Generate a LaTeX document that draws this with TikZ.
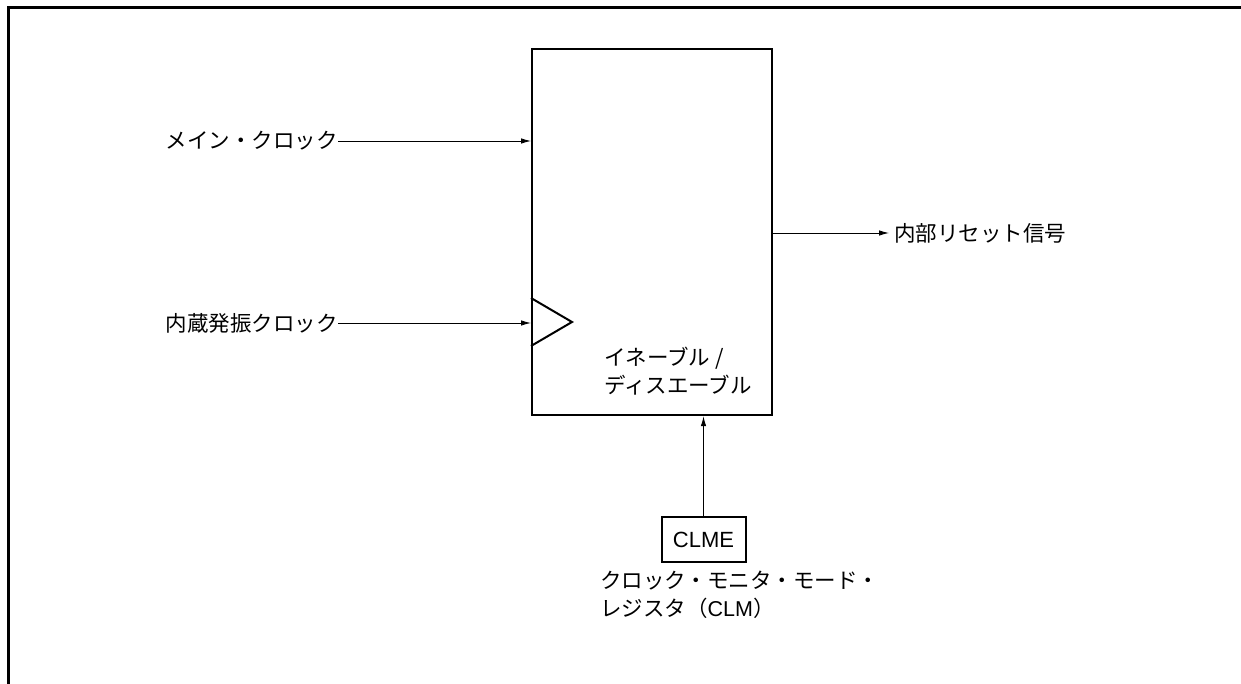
\documentclass[tikz,border=0pt]{standalone}
\usepackage{fontspec}
\setmainfont{Noto Sans CJK JP}
\newfontfamily\latinf{Liberation Sans}
\usetikzlibrary{arrows.meta}
\begin{document}
\begin{tikzpicture}[x=1pt,y=-1pt,
  lbl/.style={inner sep=0pt,font=\fontsize{21.5}{28}\selectfont,align=left},
  sig/.style={line width=0.9pt,-{Latex[length=10pt,width=5.5pt]}},
  thick box/.style={draw,line width=2.2pt}]
\useasboundingbox (0,0) rectangle (1241,684);
% frame
\draw[line width=2.2pt] (8.5,684) -- (8.5,7.5) -- (1241,7.5);
% main block
\node[thick box,minimum width=240pt,minimum height=366pt,inner sep=0pt,anchor=north west] (blk) at (531,48) {};
% triangle (clock input marker)
\coordinate (t1) at (531,298);
\coordinate (t2) at (572,322);
\coordinate (t3) at (531,346);
\draw[line width=2pt,line join=miter] (t1) -- (t2) -- (t3);
\node[lbl,anchor=north west] (en) at (604,347) {イネーブル /\\ディスエーブル};
% inputs
\node[lbl,anchor=east] (mc) at (338,141) {メイン・クロック};
\node[lbl,anchor=east] (ic) at (338,323) {内蔵発振クロック};
\coordinate (mcin) at (blk.west |- mc);
\coordinate (icin) at (blk.west |- ic);
\draw[sig] (mc.east) -- (mcin);
\draw[sig] (ic.east) -- (icin);
% output
\node[lbl,anchor=west] (out) at (894,233) {内部リセット信号};
\coordinate (outsrc) at (blk.east |- out);
\draw[sig,shorten >=5pt] (outsrc) -- (out.west);
% CLME register
\node[thick box,line width=2pt,minimum width=84pt,minimum height=45pt,inner sep=0pt,font=\latinf\fontsize{22}{24}\selectfont] (clme) at (703.5,539.5) {CLME};
\draw[sig] (clme.north) -- (clme.north |- blk.south);
\node[lbl,anchor=north west] (reg) at (600,571) {クロック・モニタ・モード・\\レジスタ（{\latinf CLM}）};
\end{tikzpicture}
\end{document}
